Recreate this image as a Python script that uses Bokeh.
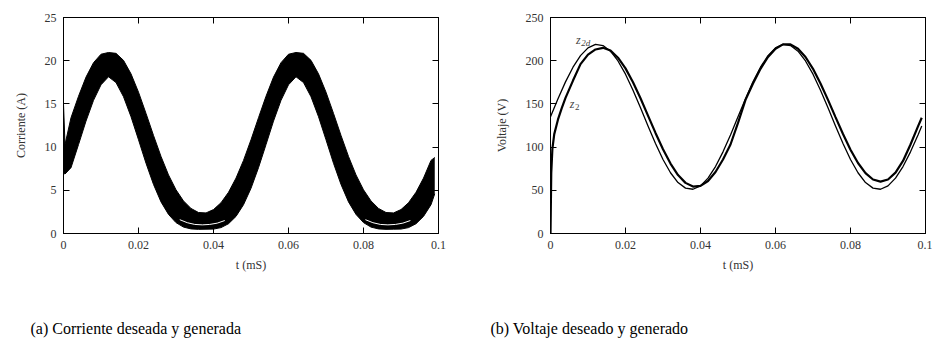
from bokeh.plotting import figure
from bokeh.layouts import row, column
from bokeh.models import FixedTicker, LinearAxis, Range1d, Label
from bokeh.embed import file_html
from bokeh.resources import INLINE

# ---------------- data ----------------
T = [0.000, 0.002, 0.004, 0.006, 0.008, 0.010, 0.012, 0.014, 0.016, 0.018,
     0.020, 0.022, 0.024, 0.026, 0.028, 0.030, 0.032, 0.034, 0.036, 0.038,
     0.040, 0.042, 0.044, 0.046, 0.048, 0.050, 0.052, 0.054, 0.056, 0.058,
     0.060, 0.062, 0.064, 0.066, 0.068, 0.070, 0.072, 0.074, 0.076, 0.078,
     0.080, 0.082, 0.084, 0.086, 0.088, 0.090, 0.092, 0.094, 0.096, 0.098,
     0.099]

# generated current: envelope of the switching band (A)
band_t = [0.0, 0.0004] + T[1:]
current_upper = [15.0, 10.3,
                 13.40, 15.88, 18.10, 19.77, 20.75, 20.95, 20.85, 20.04, 18.48, 16.36,
                 13.90, 11.35, 8.92, 6.78, 5.06, 3.77, 2.90, 2.43, 2.38, 2.77,
                 3.56, 4.77, 6.41, 8.46, 10.85,
                 13.40, 15.88, 18.10, 19.77, 20.75, 20.95, 20.85, 20.04, 18.48, 16.36,
                 13.90, 11.35, 8.92, 6.78, 5.06, 3.77, 2.90, 2.43, 2.38, 2.77,
                 3.56, 4.77, 6.41, 8.46, 8.80]
current_lower = [7.00, 6.88,
                 7.62, 10.29, 13.01, 15.41, 17.21, 18.14, 17.47, 15.83, 13.52, 10.85,
                 8.13, 5.68, 3.66, 2.21, 1.26, 0.74, 0.53, 0.48, 0.50, 0.51,
                 0.68, 1.13, 1.98, 3.33, 5.23,
                 7.62, 10.29, 13.01, 15.41, 17.21, 18.14, 17.47, 15.83, 13.52, 10.85,
                 8.13, 5.68, 3.66, 2.21, 1.26, 0.74, 0.53, 0.48, 0.50, 0.51,
                 0.68, 1.13, 1.98, 3.33, 4.60]

# desired current, visible only near the minima
ref_t1 = [0.031, 0.033, 0.035, 0.037, 0.039, 0.041, 0.043]
ref_i1 = [1.60, 1.25, 1.05, 1.00, 1.05, 1.20, 1.50]
ref_t2 = [0.0805, 0.0825, 0.0845, 0.0865, 0.0885, 0.0905, 0.0925]
ref_i2 = [1.60, 1.25, 1.05, 1.00, 1.05, 1.20, 1.50]

# voltage (V)
z2d = [135.0, 155.9, 175.5, 192.5, 205.9, 214.9, 218.8, 217.5, 211.0, 199.7,
       184.4, 165.9, 145.5, 124.5, 104.1, 85.6, 70.3, 59.0, 52.5, 51.2,
       55.1, 64.1, 77.5, 94.5, 114.1,
       135.0, 155.9, 175.5, 192.5, 205.9, 214.9, 218.8, 217.5, 211.0, 199.7,
       184.4, 165.9, 145.5, 124.5, 104.1, 85.6, 70.3, 59.0, 52.5, 51.2,
       55.1, 64.1, 77.5, 94.5, 114.1, 124.5]

z2_t = [0.0, 0.0002, 0.0005, 0.001, 0.002, 0.003, 0.004, 0.006, 0.008, 0.010, 0.012] + T[7:]
z2 = [0.0, 70.0, 98.0, 115.0, 132.0, 145.0, 157.0, 177.0, 196.0, 207.0, 213.0,
      214.9, 211.7, 203.5, 191.1, 175.0, 156.5, 136.5, 116.4, 97.5, 80.9,
      67.6, 58.6, 54.3, 55.1, 60.8, 71.2, 85.6, 103.0, 128.0,
      154.7, 173.7, 190.6, 204.3, 213.9, 218.9, 218.9, 213.9, 204.3, 190.6,
      173.7, 154.7, 134.7, 115.1, 97.0, 81.6, 69.9, 62.5, 60.0,
      62.5, 70.5, 84.0, 103.0, 124.0, 134.0]

x_ticks = [0, 0.02, 0.04, 0.06, 0.08, 0.1]
x_tick_labels = ["0", "0.02", "0.04", "0.06", "0.08", "0.1"]
yticks_i = [0, 5, 10, 15, 20, 25]
yticks_v = [0, 50, 100, 150, 200, 250]
captions = ["(a) Corriente deseada y generada", "(b) Voltaje deseado y generado"]

SERIF = "Liberation Serif"
TXT = "#333333"


def style(p, yticks, ylabel):
    p.grid.visible = False
    p.outline_line_color = "black"
    p.outline_line_width = 1
    bottom = p.below[0]
    left = p.left[0]
    top = LinearAxis()
    right = LinearAxis()
    p.add_layout(top, "above")
    p.add_layout(right, "right")
    over = {t: l for t, l in zip(x_ticks, x_tick_labels)}
    for ax in (bottom, top):
        ax.ticker = FixedTicker(ticks=x_ticks)
        ax.major_label_overrides = over
    for ax in (left, right):
        ax.ticker = FixedTicker(ticks=yticks)
    for ax in (bottom, top, left, right):
        ax.major_tick_in = 6
        ax.major_tick_out = 0
        ax.minor_tick_in = 0
        ax.minor_tick_out = 0
        ax.axis_line_color = "black"
        ax.major_tick_line_color = "black"
        ax.major_label_text_font = SERIF
        ax.major_label_text_font_size = "12px"
        ax.major_label_text_color = TXT
        ax.major_label_standoff = 7
    for ax in (top, right):
        ax.major_label_text_font_size = "1px"
        ax.major_label_text_color = None
        ax.major_label_standoff = 0
    for ax, lab, sd in ((left, ylabel, 14), (bottom, "t (mS)", 6)):
        ax.axis_label = lab
        ax.axis_label_text_font = SERIF
        ax.axis_label_text_font_size = "12px"
        ax.axis_label_text_font_style = "normal"
        ax.axis_label_text_color = TXT
        ax.axis_label_standoff = sd


# ---------------- left: current ----------------
p1 = figure(width=470, height=280, x_range=Range1d(0, 0.1), y_range=Range1d(0, 25),
            min_border_left=63, min_border_right=32, min_border_top=17, min_border_bottom=47,
            toolbar_location=None, output_backend="svg")
p1.varea(x=band_t, y1=current_lower, y2=current_upper, fill_color="black")
p1.line(band_t, current_upper, line_color="black", line_width=1)
p1.line(band_t, current_lower, line_color="black", line_width=1)
p1.line(ref_t1, ref_i1, line_color="white", line_width=1)
p1.line(ref_t2, ref_i2, line_color="white", line_width=1)
style(p1, yticks_i, "Corriente (A)")

# ---------------- right: voltage ----------------
p2 = figure(width=462, height=280, x_range=Range1d(0, 0.1), y_range=Range1d(0, 250),
            min_border_left=80, min_border_right=7, min_border_top=13, min_border_bottom=47,
            toolbar_location=None, output_backend="svg")
p2.line(T, z2d, line_color="black", line_width=1.3)
p2.line(z2_t, z2, line_color="black", line_width=2.2)
style(p2, yticks_v, "Voltaje (V)")
for xx, yy, txt, size, style_ in ((0.0068, 224, "z", "12px", "italic"),
                                  (0.0082, 220.5, "2d", "9px", "italic"),
                                  (0.0051, 150, "z", "12px", "italic"),
                                  (0.0065, 146.5, "2", "9px", "normal")):
    p2.add_layout(Label(x=xx, y=yy, text=txt, text_font=SERIF, text_font_size=size,
                        text_font_style=style_, text_color="#444444",
                        text_baseline="alphabetic"))

# ---------------- caption strip ----------------
p3 = figure(width=932, height=76, x_range=Range1d(0, 932), y_range=Range1d(0, 76),
            min_border=0, toolbar_location=None, output_backend="svg")
p3.axis.visible = False
p3.grid.visible = False
p3.outline_line_color = None
for xx, txt in zip((30, 490), captions):
    p3.add_layout(Label(x=xx, y=28, text=txt, text_font=SERIF, text_font_size="16px",
                        text_color="black", text_baseline="alphabetic"))

layout = column(row(p1, p2), p3)
open("out.html", "w").write(file_html(layout, INLINE))
